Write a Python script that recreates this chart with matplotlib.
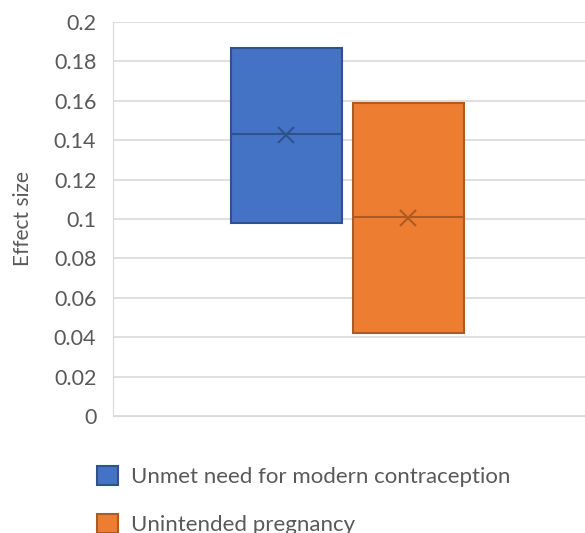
import matplotlib
matplotlib.use("Agg")
import matplotlib.pyplot as plt
from matplotlib.patches import Patch

plt.rcParams['font.family'] = ['Lato', 'DejaVu Sans']

series = ["Unmet need for modern contraception", "Unintended pregnancy"]
q1 = [0.098, 0.042]
q3 = [0.187, 0.159]
median = [0.143, 0.101]
mean = [0.1425, 0.1005]
fills = ["#4472C4", "#ED7D31"]
edges = ["#2F528F", "#AE5A21"]
yticks = [0, 0.02, 0.04, 0.06, 0.08, 0.1, 0.12, 0.14, 0.16, 0.18, 0.2]
ytick_labels = ["0", "0.02", "0.04", "0.06", "0.08", "0.1", "0.12", "0.14", "0.16", "0.18", "0.2"]
positions = [0.367, 0.626]

fig = plt.figure(figsize=(5.85, 5.33), dpi=100)
ax = fig.add_axes([113/585, 1-416/533, 1-113/585, (416-22)/533])

for i in range(len(series)):
    stats = [dict(q1=q1[i], q3=q3[i], med=median[i], mean=mean[i],
                  whislo=q1[i], whishi=q3[i], fliers=[])]
    ax.bxp(stats, positions=[positions[i]], widths=0.236, patch_artist=True,
           showmeans=True, showcaps=False,
           boxprops=dict(facecolor=fills[i], edgecolor=edges[i], linewidth=1.5),
           medianprops=dict(color=edges[i], linewidth=1.5),
           whiskerprops=dict(color=edges[i], linewidth=1.5),
           meanprops=dict(marker='x', markeredgecolor=edges[i], markersize=12,
                          markeredgewidth=1.5),
           manage_ticks=False, zorder=3)

ax.set_xlim(0, 1)
ax.set_ylim(0, 0.2)
ax.set_yticks(yticks)
ax.set_yticklabels(ytick_labels)
ax.set_xticks([])
ax.grid(axis='y', color='#D9D9D9', linewidth=1.2, zorder=0)
ax.set_axisbelow(True)
for s in ['top', 'right']:
    ax.spines[s].set_visible(False)
ax.spines['left'].set_color('#D9D9D9')
ax.spines['bottom'].set_color('#D9D9D9')
ax.tick_params(axis='y', length=0, labelsize=15.5, labelcolor='#595959', pad=12)
ax.set_ylabel("Effect size", fontsize=15, color='#595959', labelpad=15)

handles = [Patch(facecolor=fills[i], edgecolor=edges[i], linewidth=1.5) for i in range(len(series))]
fig.legend(handles, series, loc='upper left', bbox_to_anchor=(97/585, 1-466/533),
           frameon=False, fontsize=16, labelcolor='#595959', handlelength=0.95,
           handleheight=0.95, labelspacing=1.2, handletextpad=0.6, borderaxespad=0,
           borderpad=0)

fig.savefig("out.png", dpi=100)
